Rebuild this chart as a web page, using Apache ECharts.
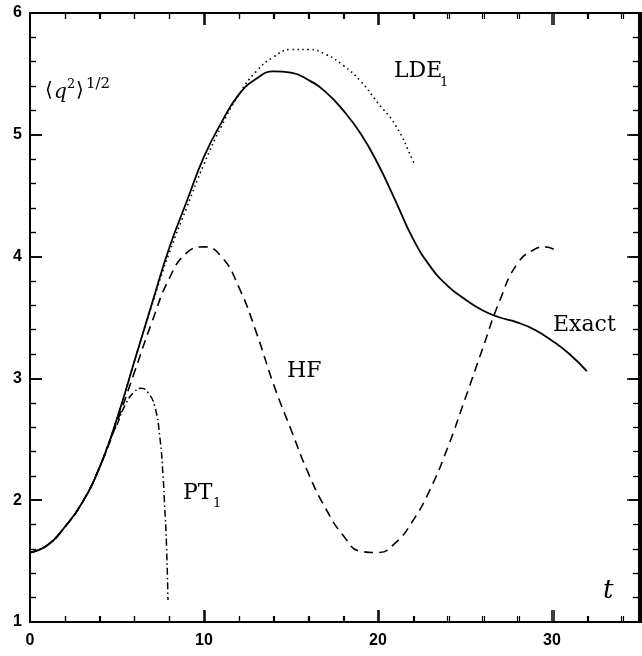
<!DOCTYPE html>
<html>
<head>
<meta charset="utf-8">
<script src="https://cdn.jsdelivr.net/npm/echarts@6/dist/echarts.min.js"></script>
</head>
<body style="margin:0">
<div id="main" style="width:642px;height:656px"></div>
<script type="text/javascript">
    // values
    var tExact = [0, 1, 2, 3, 4, 5, 6, 7, 8, 9, 10, 11, 12, 13, 14, 15, 16, 17, 18, 19, 20, 21, 22, 23, 24, 25, 26, 27, 28, 29, 30, 31, 32];
    var yExact = [1.57, 1.63, 1.78, 1.98, 2.27, 2.67, 3.14, 3.61, 4.07, 4.45, 4.82, 5.10, 5.33, 5.46, 5.52, 5.51, 5.45, 5.35, 5.20, 5.01, 4.76, 4.46, 4.15, 3.92, 3.76, 3.65, 3.56, 3.50, 3.46, 3.40, 3.31, 3.20, 3.06];

    var tHF = [0, 1, 2, 3, 4, 5, 6, 7, 8, 9, 10, 11, 12, 13, 14, 15, 16, 17, 18, 19, 20, 21, 22, 23, 24, 25, 26, 27, 28, 29, 29.6, 30.1];
    var yHF = [1.57, 1.63, 1.78, 1.98, 2.27, 2.64, 3.05, 3.46, 3.82, 4.03, 4.08, 4.00, 3.75, 3.38, 2.95, 2.58, 2.22, 1.93, 1.71, 1.58, 1.57, 1.65, 1.83, 2.09, 2.43, 2.83, 3.24, 3.64, 3.94, 4.06, 4.08, 4.06];

    var tLDE = [0, 1, 2, 3, 4, 5, 6, 7, 8, 9, 10, 11, 12, 13, 14, 15, 16, 17, 18, 19, 20, 21, 22, 22.1];
    var yLDE = [1.57, 1.63, 1.78, 1.98, 2.27, 2.67, 3.14, 3.60, 4.03, 4.40, 4.76, 5.07, 5.33, 5.52, 5.64, 5.70, 5.70, 5.66, 5.57, 5.44, 5.26, 5.08, 4.79, 4.75];

    var tPT = [0, 1, 2, 3, 4, 4.5, 5, 5.5, 6, 6.4, 6.8, 7.17, 7.46, 7.65, 7.74, 7.84, 7.93];
    var yPT = [1.57, 1.63, 1.78, 1.98, 2.27, 2.46, 2.62, 2.79, 2.89, 2.92, 2.88, 2.77, 2.52, 2.19, 1.95, 1.65, 1.18];

    var xTicks = [0, 10, 20, 30];
    var yTicks = [1, 2, 3, 4, 5, 6];

    function pairs(t, y) {
        return t.map(function (v, i) { return [v, y[i]]; });
    }

    var labelFont = 'DejaVu Serif';
    var box = { left: 30, top: 13, width: 611, height: 609 };

    // one side of the box; grid 0 carries numbers + data, grid 1 only the tick marks
    function axis(isX, pos, labels, g) {
        var list = isX ? xTicks : yTicks;
        return {
            gridIndex: g,
            type: 'value', position: pos,
            min: isX ? 0 : 1, max: isX ? 35 : 6, interval: isX ? 10 : 1,
            axisLine: { show: true, onZero: false, lineStyle: { color: '#000', width: 2 } },
            axisTick: { show: true, inside: true, length: 12, lineStyle: { color: '#000', width: 1.5 } },
            minorTick: { show: true, splitNumber: 5, length: 6, lineStyle: { color: '#000', width: 1.2 } },
            splitLine: { show: false },
            axisLabel: {
                show: labels, margin: isX ? 11 : 8,
                fontFamily: 'Liberation Sans', fontWeight: 'bold', fontSize: 16, color: '#000',
                formatter: function (v) { return list.indexOf(v) >= 0 ? String(v) : ''; }
            }
        };
    }

    function lineSeries(name, data, type, width) {
        return {
            name: name, type: 'line', data: data,
            xAxisIndex: 0, yAxisIndex: 0,
            showSymbol: false, smooth: true,
            lineStyle: { color: '#000', width: width, type: type }
        };
    }

    // text labels as title components (left / top = box corner)
    function lbl(x, top, s, size, italic) {
        return {
            text: s, left: x, top: top, padding: 0,
            textStyle: {
                fontFamily: labelFont, fontSize: size, lineHeight: size,
                fontWeight: 'normal', fontStyle: italic ? 'italic' : 'normal', color: '#000'
            }
        };
    }

    var myChart = echarts.init(document.getElementById('main'));

    var option = {
        animation: false,
        title: [
            lbl(45, 81, '⟨', 20),
            lbl(54, 83, 'q', 20, true),
            lbl(67, 78, '2', 13),
            lbl(76, 81, '⟩', 20),
            lbl(86, 77, '1/2', 15),
            lbl(394, 60, 'LDE', 22),
            lbl(440, 76, '1', 13),
            lbl(287, 360, 'HF', 22),
            lbl(553, 314, 'Exact', 22),
            lbl(183, 482, 'PT', 22),
            lbl(213, 497, '1', 13),
            lbl(603, 578, 't', 26, true)
        ],
        grid: [Object.assign({}, box), Object.assign({}, box)],
        xAxis: [
            axis(true, 'bottom', true, 0), axis(true, 'top', false, 0),
            axis(true, 'bottom', false, 1), axis(true, 'top', false, 1)
        ],
        yAxis: [
            axis(false, 'left', true, 0), axis(false, 'right', false, 0),
            axis(false, 'left', false, 1), axis(false, 'right', false, 1)
        ],
        series: [
            lineSeries('Exact', pairs(tExact, yExact), 'solid', 1.8),
            lineSeries('HF', pairs(tHF, yHF), [9, 6], 1.6),
            lineSeries('LDE1', pairs(tLDE, yLDE), [1.5, 3.5], 1.6),
            lineSeries('PT1', pairs(tPT, yPT), [7, 3, 1.5, 3], 1.5),
            // empty series so the tick-only grid is in use
            { type: 'line', xAxisIndex: 2, yAxisIndex: 2, data: [], showSymbol: false }
        ]
    };

    myChart.setOption(option);
</script>
</body>
</html>
